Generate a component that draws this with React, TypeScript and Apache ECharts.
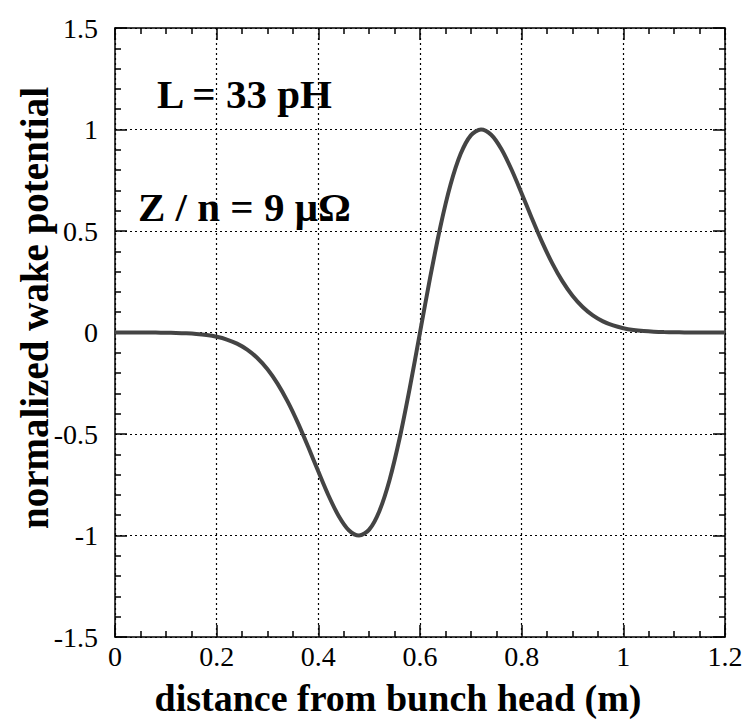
import React, { useEffect, useRef } from "react";
import * as echarts from "echarts";

const xStart = 0;
const xStep = 0.02;
const wakeValues = [
  0, -0.0001, -0.0001, -0.0003, -0.0006, -0.0012, -0.0022, -0.0041, -0.0073, -0.0126,
  -0.0212, -0.0346, -0.0549, -0.0843, -0.1256, -0.1811, -0.2529, -0.3417, -0.4463, -0.563,
  -0.6852, -0.8029, -0.9037, -0.9739, -1.0, -0.9711, -0.88, -0.7275, -0.5199, -0.271,
  0,
  0.271, 0.5199, 0.7275, 0.88, 0.9711, 1.0, 0.9739, 0.9037, 0.8029, 0.6852,
  0.563, 0.4463, 0.3417, 0.2529, 0.1811, 0.1256, 0.0843, 0.0549, 0.0346, 0.0212,
  0.0126, 0.0073, 0.0041, 0.0022, 0.0012, 0.0006, 0.0003, 0.0001, 0.0001, 0,
];
const xTicks = [0, 0.2, 0.4, 0.6, 0.8, 1, 1.2];
const yTicks = [-1.5, -1, -0.5, 0, 0.5, 1, 1.5];
const xTitle = "distance from bunch head (m)";
const yTitle = "normalized wake potential";
const note1 = "L = 33 pH";
const note2 = "Z / n = 9 μΩ";

const FONT = "Liberation Serif";

export default function App() {
  const ref = useRef<HTMLDivElement>(null);
  useEffect(() => {
    if (!ref.current) return;
    const chart = echarts.init(ref.current, undefined, { renderer: "svg" });
    const data = wakeValues.map((v, i) => [+(xStart + i * xStep).toFixed(2), v]);
    const axisCommon = {
      type: "value" as const,
      axisLine: { show: true, onZero: false, lineStyle: { color: "#000", width: 1.5 } },
      axisTick: { show: true, inside: true, length: 12, lineStyle: { color: "#000", width: 1.5 } },
      minorTick: { show: true, length: 6, lineStyle: { color: "#000", width: 1.5 } },
    };
    const fmt = (v: number) => String(+v.toFixed(2));
    chart.setOption({
      animation: false,
      backgroundColor: "#fff",
      textStyle: { fontFamily: FONT },
      grid: { left: 115, top: 28, width: 610, height: 609, containLabel: false },
      xAxis: [
        {
          ...axisCommon,
          position: "bottom",
          min: xTicks[0],
          max: xTicks[xTicks.length - 1],
          interval: 0.2,
          minorTick: { ...axisCommon.minorTick, splitNumber: 4 },
          axisLabel: { color: "#000", fontFamily: FONT, fontSize: 28, margin: 5, formatter: fmt },
          splitLine: { show: true, lineStyle: { color: "#000", width: 1.2, type: [2, 3] } },
        },
        {
          ...axisCommon,
          position: "top",
          min: xTicks[0],
          max: xTicks[xTicks.length - 1],
          interval: 0.2,
          minorTick: { ...axisCommon.minorTick, splitNumber: 4 },
          axisLabel: { show: false },
          splitLine: { show: false },
        },
      ],
      yAxis: [
        {
          ...axisCommon,
          position: "left",
          min: yTicks[0],
          max: yTicks[yTicks.length - 1],
          interval: 0.5,
          minorTick: { ...axisCommon.minorTick, splitNumber: 5 },
          axisLabel: { color: "#000", fontFamily: FONT, fontSize: 28, margin: 17, formatter: fmt },
          splitLine: { show: true, lineStyle: { color: "#000", width: 1.2, type: [2, 3] } },
        },
        {
          ...axisCommon,
          position: "right",
          min: yTicks[0],
          max: yTicks[yTicks.length - 1],
          interval: 0.5,
          minorTick: { ...axisCommon.minorTick, splitNumber: 5 },
          axisLabel: { show: false },
          splitLine: { show: false },
        },
      ],
      series: [
        {
          type: "line",
          xAxisIndex: 0,
          yAxisIndex: 0,
          data,
          smooth: 0.3,
          showSymbol: false,
          lineStyle: { color: "#444", width: 4 },
          z: 5,
        },
      ],
      graphic: [
        {
          type: "text",
          left: 157,
          top: 73,
          style: { text: note1, fontFamily: FONT, fontWeight: "bold", fontSize: 41, fill: "#000" },
        },
        {
          type: "text",
          left: 138,
          top: 186,
          style: { text: note2, fontFamily: FONT, fontWeight: "bold", fontSize: 41, fill: "#000" },
        },
        {
          type: "text",
          x: 398,
          y: 698,
          style: {
            text: xTitle,
            fontFamily: FONT,
            fontWeight: "bold",
            fontSize: 38,
            fill: "#000",
            align: "center",
            verticalAlign: "middle",
          },
        },
        {
          type: "text",
          x: 34,
          y: 308,
          rotation: Math.PI / 2,
          style: {
            text: yTitle,
            fontFamily: FONT,
            fontWeight: "bold",
            fontSize: 39,
            fill: "#000",
            align: "center",
            verticalAlign: "middle",
          },
        },
      ],
    });
    return () => chart.dispose();
  }, []);
  return (
    <div
      ref={ref}
      style={{ position: "fixed", left: 0, top: 0, width: 747, height: 726, background: "#fff" }}
    />
  );
}
